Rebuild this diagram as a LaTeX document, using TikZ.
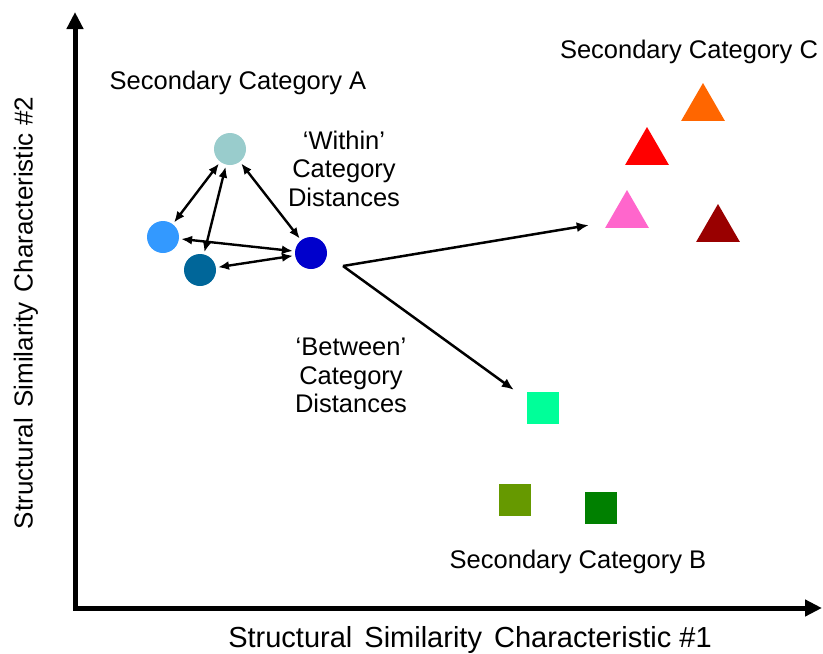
\documentclass[tikz,border=0pt]{standalone}
\usepackage{fontspec}
\setmainfont{Liberation Sans}
\usetikzlibrary{arrows.meta,shapes.geometric}
\definecolor{aone}{RGB}{153,204,204}
\definecolor{atwo}{RGB}{51,153,255}
\definecolor{athree}{RGB}{0,102,153}
\definecolor{afour}{RGB}{0,0,204}
\definecolor{cone}{RGB}{255,102,0}
\definecolor{ctwo}{RGB}{255,0,0}
\definecolor{cthree}{RGB}{255,102,204}
\definecolor{cfour}{RGB}{153,0,0}
\definecolor{bone}{RGB}{0,255,153}
\definecolor{btwo}{RGB}{102,153,0}
\definecolor{bthree}{RGB}{0,128,0}

\begin{document}
\begin{tikzpicture}[x=1pt,y=-1pt,
  lbl/.style={font=\fontsize{25.5}{28.5}\selectfont,align=center,inner sep=0pt},
  dot/.style={circle,minimum size=32pt,inner sep=0pt},
  tri/.style={regular polygon,regular polygon sides=3,minimum size=50.6pt,inner sep=0pt},
  sq/.style={minimum size=32pt,inner sep=0pt},
  dbl/.style={{Latex[length=11pt,width=9pt]}-{Latex[length=11pt,width=9pt]},line width=2.4pt,shorten <=2pt,shorten >=2pt},
  btw/.style={-{Latex[length=12pt,width=10pt]},line width=2.5pt},
  axis/.style={{Triangle[length=17pt,width=16pt]}-{Triangle[length=17pt,width=16pt]},line width=5pt,line join=miter}]
  \useasboundingbox (0,0) rectangle (823,654);
  % axes
  \coordinate (ytop) at (75,12);
  \coordinate (org) at (75,608);
  \coordinate (xend) at (822,608);
  \draw[axis] (ytop) -- (org) -- (xend);
  \node[lbl,font=\fontsize{29}{30}\selectfont,anchor=base] (xlab) at (470,647) {Structural\hspace{4pt} Similarity\hspace{4pt} Characteristic \#1};
  \node[lbl,font=\fontsize{26}{28}\selectfont,rotate=90] (ylab) at (26,313) {Structural\hspace{3pt} Similarity\hspace{3pt} Characteristic \#2};
  % category A
  \node[dot,fill=aone] (ta) at (230,149) {};
  \node[dot,fill=atwo] (lb) at (163,237) {};
  \node[dot,fill=athree] (dt) at (200,270) {};
  \node[dot,fill=afour] (db) at (311,253) {};
  \draw[dbl] (ta) -- (lb); \draw[dbl] (ta) -- (dt); \draw[dbl] (ta) -- (db);
  \draw[dbl] (lb) -- (db); \draw[dbl] (dt) -- (db);
  \node[lbl,anchor=base] (capA) at (238,89) {Secondary Category A};
  \node[lbl,anchor=north] (within) at (344,130.5) {`Within'\\Category\\Distances};
  % category C
  \node[tri,fill=cone] (orng) at (703,108.3) {};
  \node[tri,fill=ctwo] (rd) at (647,152.3) {};
  \node[tri,fill=cthree] (pk) at (627,215.3) {};
  \node[tri,fill=cfour] (drd) at (718,229.3) {};
  \node[lbl,anchor=base] (capC) at (689,58) {Secondary Category C};
  % category B
  \node[sq,fill=bone] (sg) at (543,408) {};
  \node[sq,fill=btwo] (ol) at (515,500) {};
  \node[sq,fill=bthree] (gr) at (601,508) {};
  \node[lbl,anchor=base] (capB) at (578,568) {Secondary Category B};
  % between
  \coordinate (src) at (343,266);
  \draw[btw] (src) -- ([xshift=-16pt,yshift=3pt]pk.corner 2);
  \draw[btw] (src) -- ([xshift=-13pt,yshift=2pt]sg.north west);
  \node[lbl,anchor=north] (between) at (351,338) {`Between'\\Category\\Distances};
\end{tikzpicture}
\end{document}
